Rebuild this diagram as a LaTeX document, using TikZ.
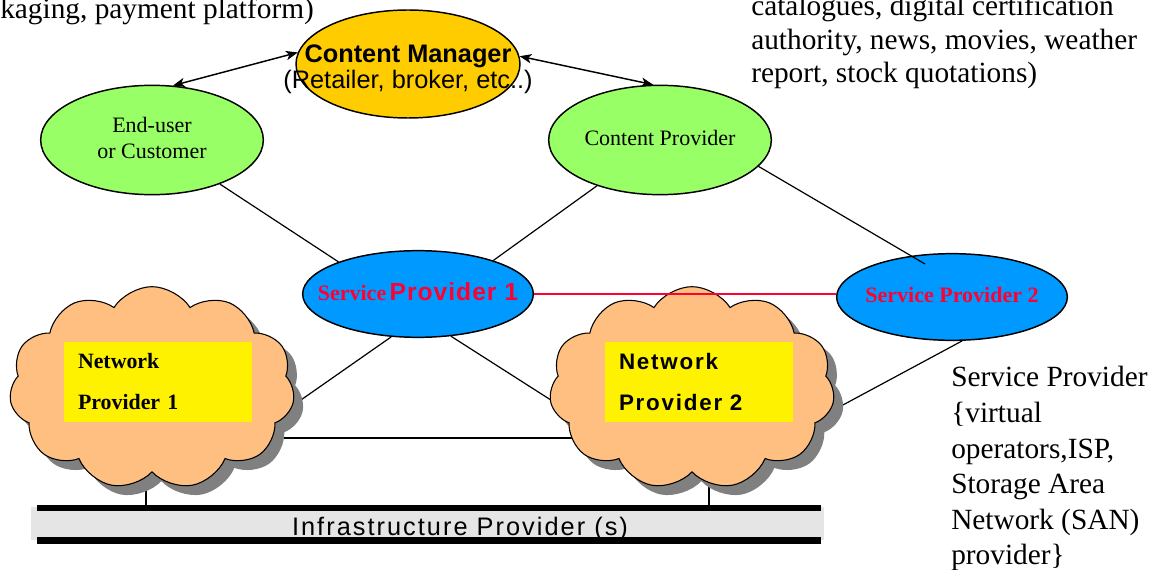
\documentclass[tikz,border=0pt]{standalone}
\usepackage{fontspec}
\setmainfont{Liberation Serif}
\setsansfont{Liberation Sans}
\usepackage{xcolor}
\usetikzlibrary{shapes.geometric,shapes.symbols,shadows,arrows.meta,backgrounds}
\definecolor{cmorange}{rgb}{1,0.8,0}
\definecolor{cgreen}{rgb}{0.6,1,0.4}
\definecolor{spblue}{rgb}{0,0.6,1}
\definecolor{spred}{rgb}{1,0,0.2}
\definecolor{npeach}{rgb}{1,0.75,0.5}
\definecolor{ipgray}{rgb}{0.9,0.9,0.9}
\newcommand{\ctr}[1]{\makebox[0pt]{\begin{tabular}{@{}c@{}}#1\end{tabular}}}

\begin{document}
\begin{tikzpicture}[x=0.75pt, y=-0.75pt,
  actor/.style={ellipse, draw, line width=1.1pt, inner sep=0pt, minimum width=167pt, minimum height=82pt, fill=cgreen, font=\fontsize{16.5}{19.5}\selectfont},
  spnode/.style={ellipse, draw, line width=1.1pt, inner sep=0pt, minimum width=173pt, minimum height=65pt, fill=spblue, text=spred, font=\bfseries},
  netcloud/.style={cloud, cloud puffs=11, cloud puff arc=115, aspect=1.4, draw, line width=0.8pt, fill=npeach, minimum width=214pt, minimum height=152pt, drop shadow={shadow xshift=7pt, shadow yshift=-7pt, fill=gray, opacity=1}},
  npbox/.style={rectangle, fill=yellow, minimum width=141pt, minimum height=60pt, text width=120pt, inner xsep=10.5pt, align=left},
  link/.style={line width=0.9pt},
  duplex/.style={{Stealth[length=9pt,width=7pt,inset=2.5pt]}-{Stealth[length=9pt,width=7pt,inset=2.5pt]}, line width=1.1pt},
  freetext/.style={inner sep=0pt, font=\fontsize{22}{25.1}\selectfont}]
\useasboundingbox (0,0) rectangle (1157,570);
\clip (0,0) rectangle (1157,570);

% actors and providers
\node[actor, fill=cmorange, minimum width=168pt, minimum height=81pt, font=\sffamily\fontsize{19}{18.75}\selectfont] (cm) at (408,64) {\raisebox{-9pt}[0pt][0pt]{\ctr{\textbf{Content Manager}\\(Retailer, broker, etc..)}}};
\node[actor] (eu) at (152,140) {\ctr{End-user\\or Customer}};
\node[actor] (cp) at (660,140) {\ctr{Content Provider}};
\node[spnode] (sp1) at (418,294) {\ctr{{\fontsize{16.5}{20}\selectfont Service} {\sffamily\fontsize{18.5}{20}\selectfont\addfontfeature{LetterSpace=4}Provider 1}}};
\node[spnode] (sp2) at (952,297) {\ctr{\fontsize{16.5}{20}\selectfont Service Provider 2}};

% networks
\node[netcloud] (nc1) at (152,388) {};
\node[netcloud] (nc2) at (692,388) {};
\node[npbox, font=\bfseries\fontsize{16.4}{30.75}\selectfont] (np1) at (158,382) {Network\\Provider 1};
\node[npbox, font=\sffamily\bfseries\fontsize{16.8}{30.75}\selectfont\addfontfeature{LetterSpace=8}] (np2) at (699,382) {Network\\Provider 2};

% infrastructure
\fill[ipgray] (31,507) rectangle (824,540);
\draw[line width=4.5pt] (37,508) -- (821,508);
\draw[line width=5pt] (37,540.5) -- (821,540.5);
\node[inner sep=0pt, anchor=base, font=\sffamily\fontsize{19}{22}\selectfont\addfontfeature{LetterSpace=8}] (ip) at (460,535) {Infrastructure Provider (s)};

\coordinate (sp2in) at (925,264);
\coordinate (nc1a) at (278,416);
\coordinate (nc2a) at (590,425);
\coordinate (nc2b) at (815,420);
\coordinate (nc1b) at (250,438);
\coordinate (nc2c) at (580,438);
\coordinate (ip1) at (146,505);
\coordinate (ip2) at (709,505);

\begin{scope}[on background layer]
\draw[link] (eu.-33) -- (sp1.158);
\draw[link] (cp.216) -- (sp1.24);
\draw[link] (sp1.-122) -- (nc1a);
\draw[link] (sp1.-52) -- (nc2a);
\draw[link] (sp2.-77) -- (nc2b);
\draw[link] (nc1b) -- (nc2c);
\draw[link] (ip1) -- ++(0,-35);
\draw[link] (ip2) -- ++(0,-35);
\end{scope}
\draw[link] (cp.-15) -- (sp2in);
\draw[link, spred] (sp1.east) -- (sp1.east -| sp2.west);
\draw[duplex] (eu.69) -- (cm.174);
\draw[duplex] (cm.4) -- (cp.97);

% notes
\node[freetext, anchor=base west] (pkg) at (0,19) {kaging, payment platform)};
\node[freetext, anchor=base west] (cat) at (751,16) {\begin{tabular}[t]{@{}l@{}}catalogues, digital certification\\authority, news, movies, weather\\report, stock quotations)\end{tabular}};
\node[freetext, anchor=base west, font=\fontsize{22}{26.7}\selectfont] (spnote) at (951,387) {\begin{tabular}[t]{@{}l@{}}Service Provider\\\{virtual\\operators,ISP,\\Storage Area\\Network (SAN)\\provider\}\end{tabular}};
\end{tikzpicture}
\end{document}
